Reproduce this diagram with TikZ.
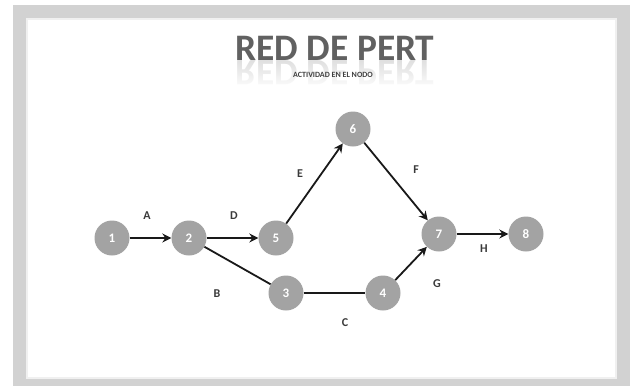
\documentclass[tikz,border=0pt]{standalone}
\usepackage{fontspec}
\setmainfont{Carlito}
\usetikzlibrary{arrows.meta,fadings}
\definecolor{nodegray}{HTML}{A3A3A3}
\definecolor{framegray}{HTML}{D2D2D2}
\definecolor{labgray}{HTML}{3A3A3A}
\tikzset{
  pnode/.style={circle,fill=nodegray,minimum size=35pt,inner sep=0pt,text=white,font=\fontsize{13}{13}\selectfont\bfseries},
  act/.style={draw=black!90,line width=1.8pt,-{Stealth[length=9pt,width=9pt,inset=3pt]}},
  actnoarrow/.style={draw=black!90,line width=1.8pt},
  alabel/.style={text=labgray,font=\fontsize{12}{12}\selectfont\bfseries}
}
\begin{document}
\begin{tikzpicture}[x=1pt,y=-1pt]
\useasboundingbox (0,0) rectangle (636,386);
\fill[white] (0,0) rectangle (636,386);
% frame
\fill[framegray] (13,5) rectangle (630,386);
\fill[white!88!gray] (26,18) rectangle (617,379);
\fill[white] (28,20) rectangle (615,377);
% title with reflection
\node[text=black!12,font=\fontsize{44}{44}\selectfont\bfseries,yscale=-0.85,xscale=0.85] (refl) at (335,73) {RED DE PERT};
\fill[white,path fading=north] (215,61) rectangle (455,90);
\node[text=black!62,font=\fontsize{44}{44}\selectfont\bfseries,scale=0.85] (title) at (335,48) {RED DE PERT};
\node[text=black!75,font=\fontsize{8}{8}\selectfont\bfseries] (sub) at (333,75) {ACTIVIDAD EN EL NODO};
% nodes
\node[pnode] (n1) at (112,238) {1};
\node[pnode] (n2) at (189,238) {2};
\node[pnode] (n5) at (276,238) {5};
\node[pnode] (n6) at (353,129) {6};
\node[pnode] (n3) at (286,293) {3};
\node[pnode] (n4) at (383,293) {4};
\node[pnode] (n7) at (439,234) {7};
\node[pnode] (n8) at (526,234) {8};
% connectors
\draw[act] (n1) -- (n2);
\draw[act] (n2) -- (n5);
\draw[act] (n5) -- (n6);
\draw[act] (n6) -- (n7);
\draw[act] (n7) -- (n8);
\draw[act] (n4) -- (n7);
\draw[actnoarrow] (n2) -- (n3);
\draw[actnoarrow] (n3.east) -- (n4.west);
% labels
\node[alabel] (lA) at (147,216) {A};
\node[alabel] (lD) at (234,216) {D};
\node[alabel] (lE) at (300,174) {E};
\node[alabel] (lF) at (416,170) {F};
\node[alabel] (lB) at (217,294) {B};
\node[alabel] (lC) at (345,323) {C};
\node[alabel] (lG) at (437,284) {G};
\node[alabel] (lH) at (484,249) {H};
\end{tikzpicture}
\end{document}
